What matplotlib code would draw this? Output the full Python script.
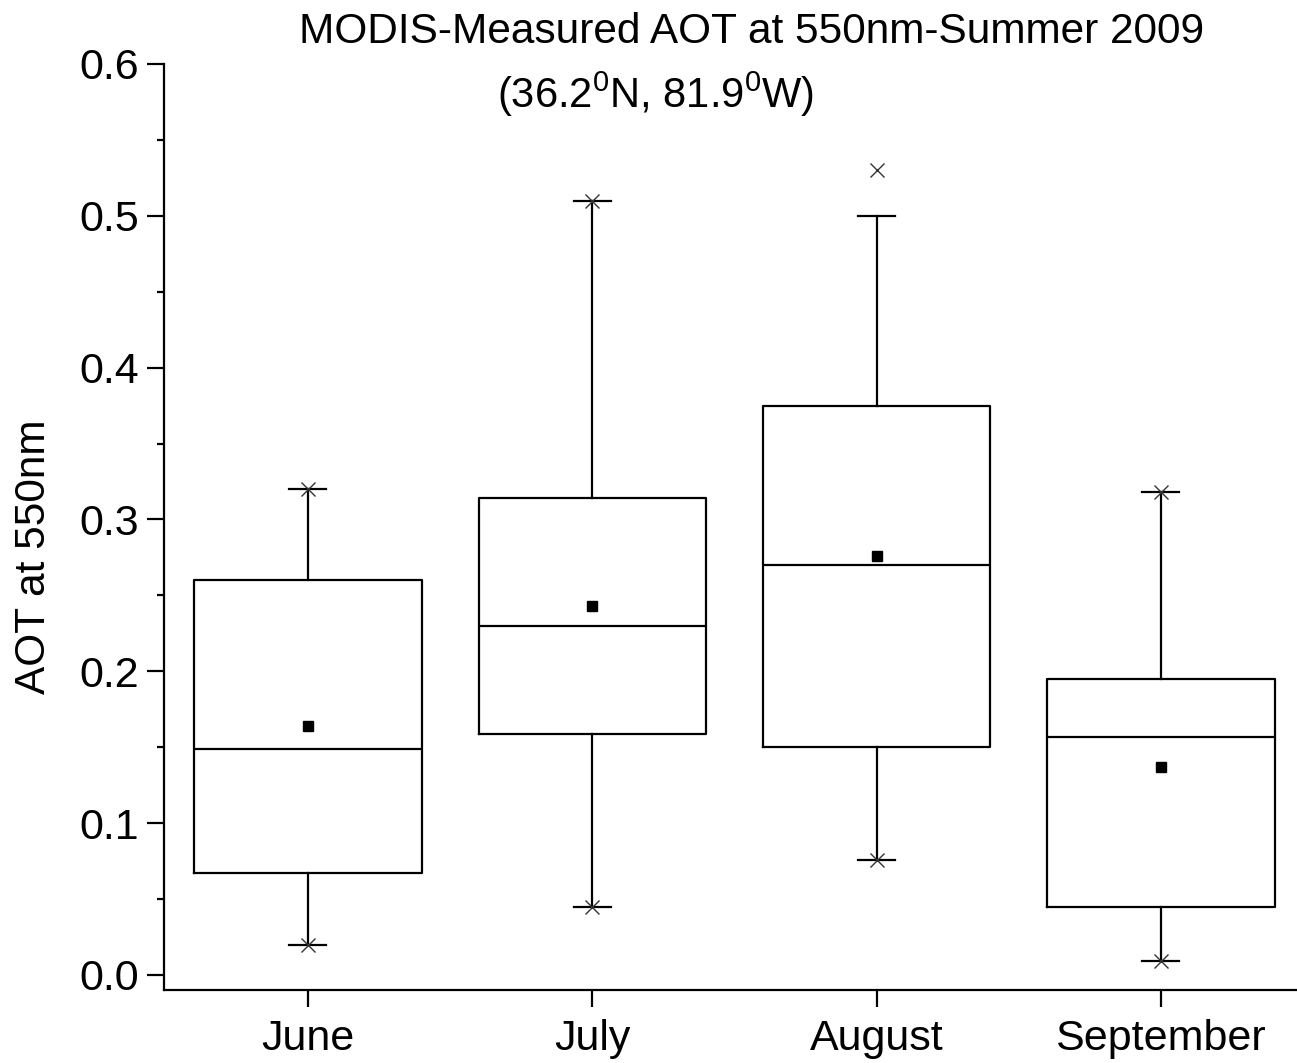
import numpy as np
import matplotlib.pyplot as plt
from matplotlib.ticker import MultipleLocator

plt.rcParams["font.family"] = ["Liberation Sans", "DejaVu Sans"]
plt.rcParams["mathtext.default"] = "regular"

months = ["June", "July", "August", "September"]
q1      = [0.067, 0.159, 0.150, 0.045]
median  = [0.149, 0.230, 0.270, 0.157]
q3      = [0.260, 0.314, 0.375, 0.195]
mean    = [0.164, 0.243, 0.276, 0.137]
wlo     = [0.020, 0.045, 0.076, 0.009]
whi     = [0.320, 0.510, 0.500, 0.318]
vmin    = [0.020, 0.045, 0.076, 0.009]
vmax    = [0.320, 0.510, 0.530, 0.318]

pos = np.arange(1, len(months) + 1)

fig = plt.figure(figsize=(12.97, 10.63), dpi=100)
ax = fig.add_axes([0.1265, 0.0687, 0.8735, 0.8711])

stats = [dict(q1=a, med=m, q3=b, whislo=lo, whishi=hi, fliers=[])
         for a, m, b, lo, hi in zip(q1, median, q3, wlo, whi)]
lw = 1.6
ax.bxp(stats, positions=pos, widths=0.8, showfliers=False,
       boxprops=dict(color="black", lw=lw),
       medianprops=dict(color="black", lw=lw),
       whiskerprops=dict(color="black", lw=lw),
       capprops=dict(color="black", lw=lw),
       capwidths=0.13)

# mean squares and min/max crosses
ax.plot(pos, mean, "s", color="black", ms=7.5, ls="none")
ax.plot(pos, vmin, "x", color="#333333", ms=10, mew=1.0, ls="none")
ax.plot(pos, vmax, "x", color="#333333", ms=10, mew=1.0, ls="none")

ax.set_xlim(0.494, 4.479)
ax.set_ylim(-0.0099, 0.6)
ax.set_xticks(pos)
ax.set_xticklabels(months)
ax.yaxis.set_major_locator(MultipleLocator(0.1))
ax.yaxis.set_minor_locator(MultipleLocator(0.05))
ax.set_yticks(np.arange(0, 0.61, 0.1))
ax.set_yticklabels([f"{v:.1f}" for v in np.arange(0, 0.61, 0.1)])

for s in ["top", "right"]:
    ax.spines[s].set_visible(False)
for s in ["left", "bottom"]:
    ax.spines[s].set_linewidth(1.6)

ax.tick_params(axis="both", which="major", direction="out", length=12,
               width=1.6, labelsize=31, pad=6)
ax.tick_params(axis="x", which="major", pad=9)
ax.tick_params(axis="y", which="minor", direction="out", length=5, width=1.6)
ax.tick_params(axis="x", which="minor", bottom=False)

ax.set_ylabel("AOT at 550nm", fontsize=30.5)
ax.yaxis.set_label_coords(-0.097, 0.4676)

fig.text(752 / 1297, 1 - 32 / 1063, "MODIS-Measured AOT at 550nm-Summer 2009",
         ha="center", va="center", fontsize=30.5)
fig.text(656 / 1297, 1 - 94 / 1063, "(36.2$^0$N, 81.9$^0$W)",
         ha="center", va="center", fontsize=30)

fig.savefig("out.png", dpi=100)
